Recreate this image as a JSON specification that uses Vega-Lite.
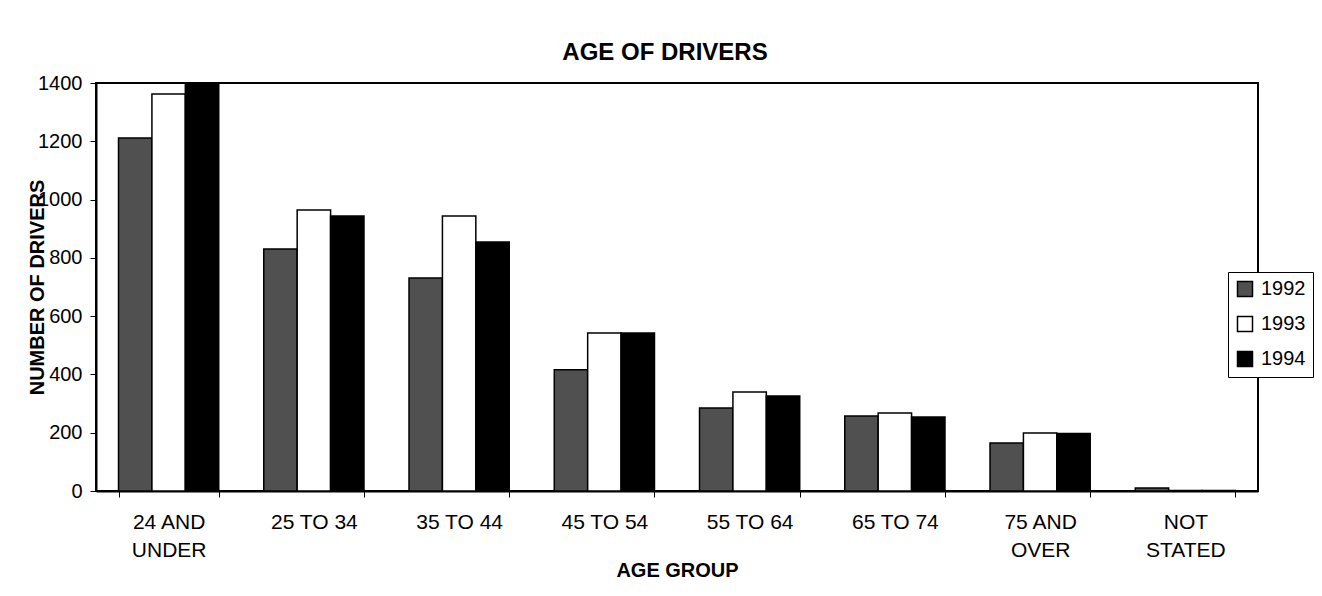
{
  "$schema": "https://vega.github.io/schema/vega-lite/v6.json",
  "autosize": "none",
  "width": 1162,
  "height": 408,
  "padding": {"left": 96, "top": 83, "right": 64, "bottom": 105},
  "background": "white",
  "title": {
    "text": "AGE OF DRIVERS",
    "font": "Liberation Sans",
    "fontSize": 24,
    "fontWeight": "bold",
    "color": "black",
    "anchor": "middle",
    "dx": -12,
    "baseline": "alphabetic",
    "offset": -11
  },
  "data": {
    "values": [
      {"group": "24 AND UNDER", "year": "1992", "drivers": 1211},
      {"group": "24 AND UNDER", "year": "1993", "drivers": 1362},
      {"group": "24 AND UNDER", "year": "1994", "drivers": 1400},
      {"group": "25 TO 34", "year": "1992", "drivers": 830},
      {"group": "25 TO 34", "year": "1993", "drivers": 964},
      {"group": "25 TO 34", "year": "1994", "drivers": 944},
      {"group": "35 TO 44", "year": "1992", "drivers": 731},
      {"group": "35 TO 44", "year": "1993", "drivers": 944},
      {"group": "35 TO 44", "year": "1994", "drivers": 854},
      {"group": "45 TO 54", "year": "1992", "drivers": 416},
      {"group": "45 TO 54", "year": "1993", "drivers": 542},
      {"group": "45 TO 54", "year": "1994", "drivers": 542},
      {"group": "55 TO 64", "year": "1992", "drivers": 285},
      {"group": "55 TO 64", "year": "1993", "drivers": 340},
      {"group": "55 TO 64", "year": "1994", "drivers": 326},
      {"group": "65 TO 74", "year": "1992", "drivers": 257},
      {"group": "65 TO 74", "year": "1993", "drivers": 268},
      {"group": "65 TO 74", "year": "1994", "drivers": 254},
      {"group": "75 AND OVER", "year": "1992", "drivers": 165},
      {"group": "75 AND OVER", "year": "1993", "drivers": 199},
      {"group": "75 AND OVER", "year": "1994", "drivers": 197},
      {"group": "NOT STATED", "year": "1992", "drivers": 10},
      {"group": "NOT STATED", "year": "1993", "drivers": 2},
      {"group": "NOT STATED", "year": "1994", "drivers": 2}
    ]
  },
  "mark": {"type": "bar", "stroke": "black", "strokeWidth": 1.5},
  "encoding": {
    "x": {
      "field": "group",
      "type": "nominal",
      "sort": null,
      "scale": {"paddingInner": 0.31, "paddingOuter": 0.155},
      "axis": {
        "title": "AGE GROUP",
        "labelAngle": 0,
        "labelFont": "Liberation Sans",
        "labelFontSize": 21,
        "labelColor": "black",
        "labelLineHeight": 28,
        "labelPadding": 14,
        "labelExpr": "datum.value == '24 AND UNDER' ? ['24 AND', 'UNDER'] : datum.value == '75 AND OVER' ? ['75 AND', 'OVER'] : datum.value == 'NOT STATED' ? ['NOT', 'STATED'] : datum.value",
        "tickBand": "extent",
        "tickSize": 6,
        "tickColor": "black",
        "tickWidth": 1,
        "domainColor": "black",
        "domainWidth": 2,
        "titleFont": "Liberation Sans",
        "titleFontSize": 20,
        "titleFontWeight": "bold",
        "titleColor": "black",
        "titleBaseline": "alphabetic",
        "titleY": 85
      }
    },
    "xOffset": {"field": "year", "type": "nominal", "sort": ["1992", "1993", "1994"]},
    "y": {
      "field": "drivers",
      "type": "quantitative",
      "scale": {"domain": [0, 1400], "nice": false},
      "axis": {
        "title": "NUMBER OF DRIVERS",
        "values": [0, 200, 400, 600, 800, 1000, 1200, 1400],
        "format": "d",
        "grid": false,
        "labelFont": "Liberation Sans",
        "labelFontSize": 20,
        "labelColor": "black",
        "labelPadding": 8,
        "tickSize": 6,
        "tickColor": "black",
        "domainColor": "black",
        "domainWidth": 2,
        "titleFont": "Liberation Sans",
        "titleFontSize": 20,
        "titleFontWeight": "bold",
        "titleColor": "black",
        "titleAngle": -90,
        "titleBaseline": "alphabetic",
        "titleAlign": "center",
        "titleX": -53,
        "titleY": 204
      }
    },
    "color": {
      "field": "year",
      "type": "nominal",
      "scale": {"domain": ["1992", "1993", "1994"], "range": ["#505050", "#ffffff", "#000000"]},
      "legend": {
        "title": null,
        "orient": "none",
        "legendX": 1132,
        "legendY": 189,
        "fillColor": "white",
        "strokeColor": "black",
        "padding": 7,
        "rowPadding": 13,
        "symbolType": "square",
        "symbolSize": 225,
        "symbolStrokeColor": "black",
        "symbolStrokeWidth": 1.5,
        "symbolOpacity": 1,
        "labelFont": "Liberation Sans",
        "labelFontSize": 20,
        "labelColor": "black",
        "labelOffset": 6
      }
    }
  },
  "config": {
    "view": {"stroke": "black", "strokeWidth": 2},
    "axis": {"grid": false}
  }
}
